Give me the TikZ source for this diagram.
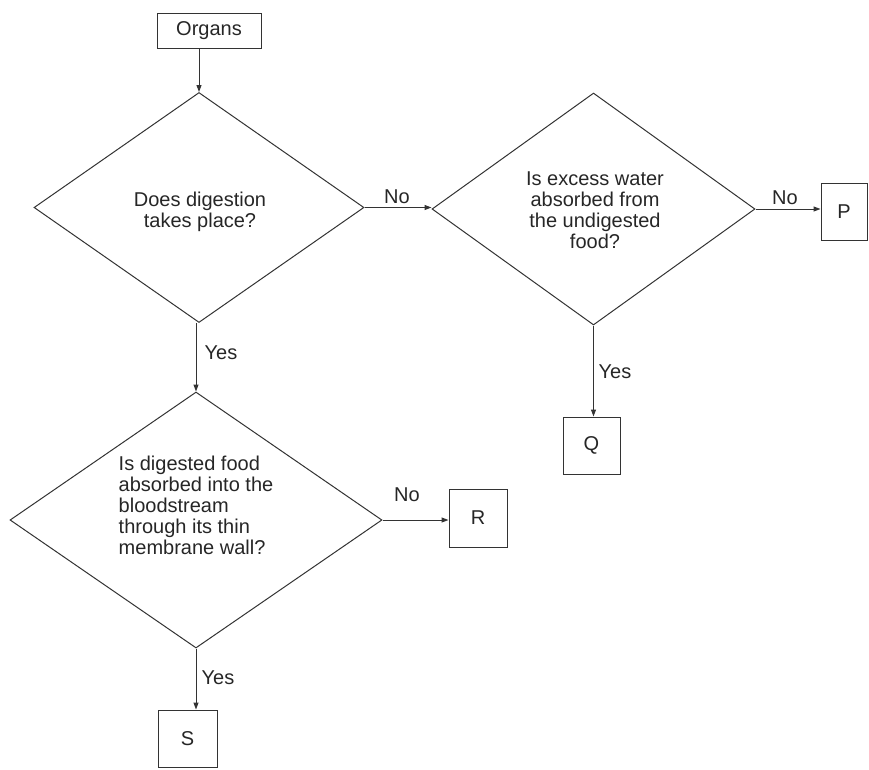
\documentclass[tikz,border=0pt]{standalone}
\usepackage{fontspec}
\setmainfont{Liberation Sans}
\usetikzlibrary{shapes.geometric,arrows.meta}
\begin{document}
\begin{tikzpicture}[x=1pt,y=-1pt,
  every node/.style={font=\fontsize{20}{21}\selectfont, text=black!85},
  dec/.style={diamond, draw=black!80, line width=1pt, inner sep=0pt},
  box/.style={rectangle, draw=black!80, line width=1pt, inner sep=0pt},
  conn/.style={draw=black!80, line width=1pt, -{Triangle[length=7pt,width=5pt]}},
  lab/.style={inner sep=0pt}]
\useasboundingbox (0,0) rectangle (869,769);
% boxes
\node[box, minimum width=104pt, minimum height=35pt] (o) at (209,30.5) {Organs};
\node[box, minimum width=46pt, minimum height=57pt] (p) at (844,211.5) {P};
\node[box, minimum width=57pt, minimum height=57pt] (q) at (591.5,445.5) {Q};
\node[box, minimum width=58pt, minimum height=58pt] (r) at (478,518) {R};
\node[box, minimum width=59pt, minimum height=57pt] (s) at (187.5,738.5) {S};
% decisions
\node[dec, minimum width=330pt, minimum height=230pt] (d1) at (199,207.5) {};
\node[dec, minimum width=323pt, minimum height=232pt] (d2) at (593.5,209) {};
\node[dec, minimum width=372pt, minimum height=256pt] (d3) at (196,520) {};
% decision texts
\node[align=center, inner sep=0pt] (t1) at (200,212) {Does digestion\\takes place?};
\node[align=center, inner sep=0pt] (t2) at (595,210) {Is excess water\\absorbed from\\the undigested\\food?};
\node[align=left, inner sep=0pt] (t3) at (196,505) {Is digested food\\absorbed into the\\bloodstream\\through its thin\\membrane wall?};
% connectors
\draw[conn] (d1.north |- o.south) -- (d1.north);
\draw[conn] (d1.east) -- (d1.east -| d2.west);
\draw[conn] (d2.east) -- (d2.east -| p.west);
\draw[conn] (d2.south) -- (d2.south |- q.north);
\draw[conn] (d3.north |- d1.south) -- (d3.north);
\draw[conn] (d3.east) -- (d3.east -| r.west);
\draw[conn] (d3.south) -- (d3.south |- s.north);
% labels
\node[lab] (l1) at (397,197) {No};
\node[lab] (l2) at (785,198) {No};
\node[lab] (l3) at (221,353) {Yes};
\node[lab] (l4) at (615,372) {Yes};
\node[lab] (l5) at (407,495) {No};
\node[lab] (l6) at (218,678) {Yes};
\end{tikzpicture}
\end{document}
